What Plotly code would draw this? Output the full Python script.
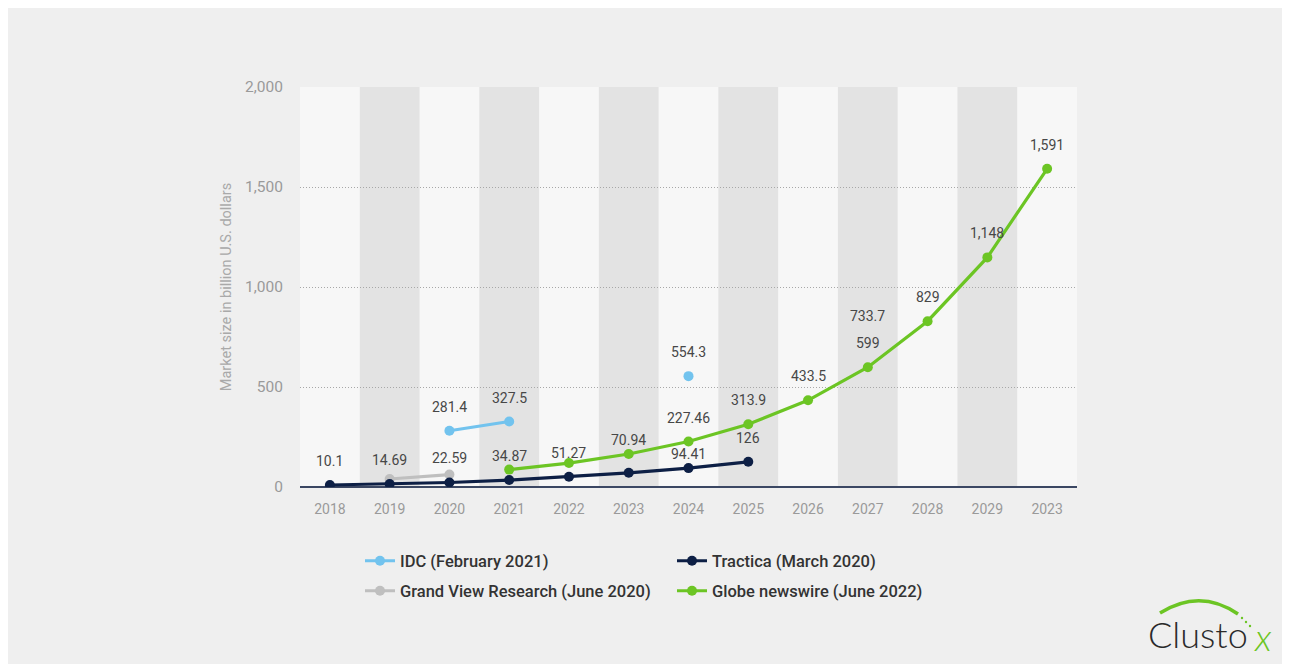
import plotly.graph_objects as go

# ---------------- data ----------------
categories = ["2018", "2019", "2020", "2021", "2022", "2023", "2024",
              "2025", "2026", "2027", "2028", "2029", "2023"]

idc = [None, None, 281.4, 327.5, None, None, 554.3, None, None, None, None, None, None]
tractica = [10.1, 14.69, 22.59, 34.87, 51.27, 70.94, 94.41, 126, None, None, None, None, None]
grand_view = [None, 39.9, 62.35, None, None, None, None, None, None, None, None, None, None]
globe = [None, None, None, 87.04, 119.78, 164.99, 227.46, 313.9, 433.5, 599, 829, 1148, 1591]
# label shown without a marker
extra_label_values = [None, None, None, None, None, None, None, None, None, 733.7, None, None, None]

y_ticks = [0, 500, 1000, 1500, 2000]
y_tick_labels = ["0", "500", "1,000", "1,500", "2,000"]

# ---------------- geometry (page has an 8px body margin) ----------------
OFF = 8
W, H = 1290 - OFF, 669 - OFF
L, R, T, B = 300 - OFF, 213, 87 - OFF, 182
PW, PH = W - L - R, H - T - B

def px(sx):
    """screen x -> paper x"""
    return (sx - OFF - L) / PW

def py(sy):
    """screen y -> paper y"""
    return (H - B - (sy - OFF)) / PH

C_IDC = "#72c3ee"
C_TRA = "#0d1f45"
C_GVR = "#bfbfbf"
C_GLO = "#6cc524"
FONT = "Roboto"

xs = list(range(len(categories)))

fig = go.Figure()

def add_series(name, vals, color, legend):
    fig.add_trace(go.Scatter(
        x=xs, y=vals, name=name, mode="lines+markers",
        line=dict(color=color, width=3.2),
        marker=dict(color=color, size=10),
        connectgaps=False, legend=legend, hoverinfo="skip",
    ))

add_series("Grand View Research (June 2020)", grand_view, C_GVR, "legend2")
add_series("IDC (February 2021)", idc, C_IDC, "legend")
add_series("Globe newswire (June 2022)", globe, C_GLO, "legend2")
add_series("Tractica (March 2020)", tractica, C_TRA, "legend")

# ---------------- data labels ----------------
label_shift_default = 24
tractica_shift = {5: 33, 6: 14}
globe_label_from = 6

annos = []
def lab(i, v, shift=label_shift_default):
    annos.append(dict(x=i, y=v, text=f"{v:,g}", showarrow=False, yshift=shift,
                      xanchor="center", yanchor="middle",
                      font=dict(family=FONT, size=14, color="#474747")))

for i, v in enumerate(tractica):
    if v is not None:
        lab(i, v, tractica_shift.get(i, label_shift_default))
for i, v in enumerate(idc):
    if v is not None:
        lab(i, v)
for i, v in enumerate(globe):
    if v is not None and i >= globe_label_from:
        lab(i, v)
for i, v in enumerate(extra_label_values):
    if v is not None:
        lab(i, v)

# ---------------- logo ----------------
annos.append(dict(xref="paper", yref="paper", x=px(1198), y=py(634), text="Clusto",
                  xanchor="center", yanchor="middle", showarrow=False,
                  font=dict(family="Lato", size=36, color="#2a2a2a", weight=300)))
annos.append(dict(xref="paper", yref="paper", x=px(1263), y=py(636), text="<i>x</i>",
                  xanchor="center", yanchor="middle", showarrow=False,
                  font=dict(family="Lato", size=38, color=C_GLO, weight=300)))

# ---------------- shapes ----------------
shapes = [
    dict(type="rect", xref="paper", yref="paper", x0=px(7), x1=px(1284), y0=py(7), y1=py(664),
         fillcolor="#efefef", line=dict(width=0), layer="below"),
    dict(type="rect", xref="paper", yref="paper", x0=0, x1=1, y0=0, y1=1,
         fillcolor="#f7f7f7", line=dict(width=0), layer="below"),
]
for i in xs:
    if i % 2 == 1:
        shapes.append(dict(type="rect", xref="x", yref="y", x0=i - 0.5, x1=i + 0.5,
                           y0=y_ticks[0], y1=y_ticks[-1], fillcolor="#e3e3e3",
                           line=dict(width=0), layer="below"))

# swoosh of the logo
p = [(1160, 613), (1200, 588), (1238, 614)]
shapes.append(dict(type="path", xref="paper", yref="paper",
                   path=f"M {px(p[0][0])},{py(p[0][1])} Q {px(p[1][0])},{py(p[1][1])} {px(p[2][0])},{py(p[2][1])}",
                   line=dict(color=C_GLO, width=3.5)))
for (dx, dy) in [(1242, 618), (1246, 622), (1250, 626)]:
    shapes.append(dict(type="circle", xref="paper", yref="paper",
                       x0=px(dx - 1.2), x1=px(dx + 1.2), y0=py(dy + 1.2), y1=py(dy - 1.2),
                       fillcolor=C_GLO, line=dict(width=0)))

legend_common = dict(orientation="h", xanchor="left", yanchor="middle",
                     entrywidth=267, entrywidthmode="pixels", bgcolor="rgba(0,0,0,0)",
                     font=dict(family=FONT, size=16.5, color="#333333", weight=500),
                     itemwidth=30, traceorder="normal")

fig.update_layout(
    width=W, height=H,
    margin=dict(l=L, r=R, t=T, b=B),
    paper_bgcolor="#ffffff",
    plot_bgcolor="rgba(0,0,0,0)",
    font=dict(family=FONT),
    showlegend=True,
    legend=dict(x=px(360), y=py(561), **legend_common),
    legend2=dict(x=px(360), y=py(591), **legend_common),
    annotations=annos,
    shapes=shapes,
    xaxis=dict(range=[-0.5, len(categories) - 0.5], tickvals=xs, ticktext=categories,
               showgrid=False, zeroline=False, showline=False,
               tickfont=dict(family=FONT, size=14, color="#9a9a9a"),
               ticks="", ticklabelstandoff=12, fixedrange=True),
    yaxis=dict(range=[y_ticks[0], y_ticks[-1]], tickvals=y_ticks, ticktext=y_tick_labels,
               showgrid=True, gridcolor="#a8a8a8", griddash="1px,2px", gridwidth=1,
               zeroline=True, zerolinecolor="#3b4763", zerolinewidth=1.6,
               showline=False, ticks="", ticklabelstandoff=16,
               tickfont=dict(family=FONT, size=15.5, color="#9a9a9a"),
               title=dict(text="Market size in billion U.S. dollars", standoff=10,
                          font=dict(family=FONT, size=14.5, color="#a9a9a9")),
               fixedrange=True),
)

fig.write_html("out.html")
